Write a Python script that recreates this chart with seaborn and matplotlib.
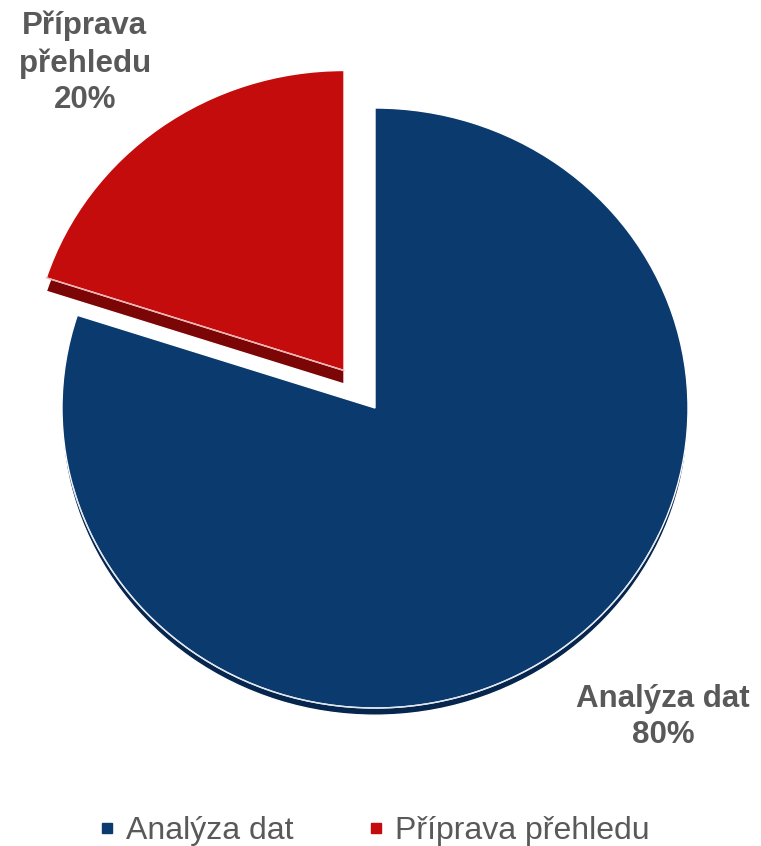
import matplotlib
matplotlib.use("Agg")
import matplotlib.pyplot as plt
import seaborn as sns
from matplotlib.lines import Line2D
from matplotlib.patches import Arc

categories = ["Analýza dat", "Příprava přehledu"]
values = [80, 20]
pct_labels = ["80%", "20%"]

top_colors = ["#0b3a6f", "#c40c0c"]
side_colors = ["#06264d", "#7c0606"]
text_color = "#595959"

sns.set_theme(style="white")
plt.rcParams["font.family"] = ["Liberation Sans", "DejaVu Sans"]

fig = plt.figure(figsize=(7.61, 8.46), dpi=100)
ax = fig.add_axes([0, 0, 1, 1])

red_offset = (-0.099, 0.125)
depth = 0.024
red_depth = 0.045

# side (depth) layer
side, _ = ax.pie(values, colors=side_colors, startangle=90, counterclock=False,
                 center=(0, -depth), radius=1.0, frame=True)
side[1].set_center((red_offset[0], red_offset[1] - red_depth))

# top surface
top, _ = ax.pie(values, colors=top_colors, startangle=90, counterclock=False,
                center=(0, 0), radius=1.0, frame=True)
top[1].set_center(red_offset)

ax.set_aspect("auto")
ax.set_xlim(-375 / 313, 386 / 313)
ax.set_ylim(-(846 - 408) / 300, 408 / 300)
ax.axis("off")

# light rim highlight along bottom edge
ax.add_patch(Arc((0, 0), 2.0, 2.0, theta1=195, theta2=335, color="#dfe6ee", lw=1.0))
ax.plot([red_offset[0], red_offset[0] + 1.0 * -0.951], [red_offset[1], red_offset[1] + 0.309],
        color="#f0b0b0", lw=1.0)

ax.text(-0.927, 1.15, f"{categories[1].split()[0]}\n{categories[1].split()[1]}\n{pct_labels[1]}",
        ha="center", va="center", fontsize=22.5, fontweight="bold", color=text_color,
        linespacing=1.3)
ax.text(0.92, -1.03, f"{categories[0]}\n{pct_labels[0]}",
        ha="center", va="center", fontsize=22.5, fontweight="bold", color=text_color,
        linespacing=1.3)

handles = [Line2D([], [], marker="s", linestyle="none", markersize=7,
                  markerfacecolor=c, markeredgecolor=c) for c in top_colors]
fig.legend(handles, categories, loc="center", bbox_to_anchor=(0.489, 1 - 831 / 846),
           ncol=2, frameon=False, fontsize=23, handletextpad=0.2, columnspacing=2.18,
           labelcolor=text_color, handlelength=0.8)

fig.savefig("out.png", dpi=100)
